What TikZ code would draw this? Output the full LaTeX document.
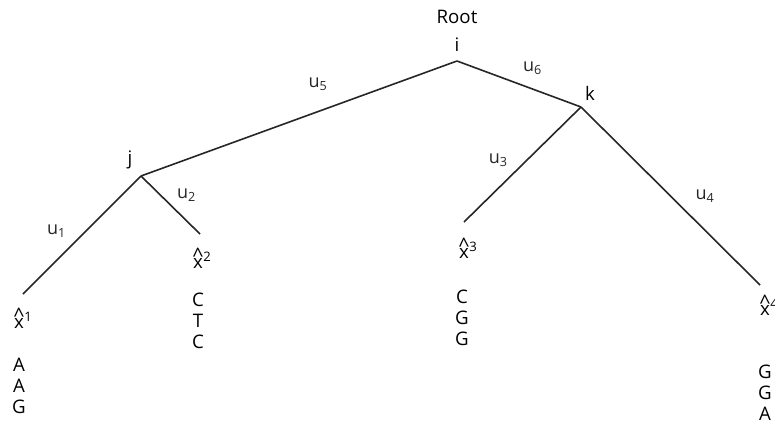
\documentclass[tikz,border=0pt]{standalone}
\usepackage{fontspec}
\setmainfont{Open Sans}
\usetikzlibrary{positioning}
\newcommand\xhat[1]{\shortstack[c]{{\fontsize{15}{15}\selectfont\textasciicircum}\\[-6pt]x}\textsuperscript{#1}}
\tikzset{
  branch/.style={line width=1.2pt,black!85},
  tag/.style={inner sep=1pt,font=\fontsize{14}{15.75}\selectfont},
  lbl/.style={inner sep=1pt,font=\fontsize{13.5}{15}\selectfont},
  seq/.style={inner sep=1pt,align=center,font=\fontsize{14}{15.75}\selectfont}
}
\begin{document}
\begin{tikzpicture}[x=0.75pt,y=-0.75pt]
  \useasboundingbox (0,0) rectangle (775,425);
  % inner vertices
  \coordinate (i) at (457,61);
  \coordinate (j) at (141,176);
  \coordinate (k) at (581,107);
  \node[tag] (root) at (457,17) {Root};
  \node[tag] (itag) at (457,45) {i};
  \node[tag] (jtag) at (130,160) {j};
  \node[tag] (ktag) at (590,93) {k};
  % leaves with their sequences
  \foreach \n/\lx/\ly/\hx/\hy/\sx/\sy/\s in {1/23/294/23/318/19/386/{A\\A\\G},
      2/200/234/202/258/198/321/{C\\T\\C},3/464/222/468/248/462/318/{C\\G\\G},
      4/760/285/769/305/765/393/{G\\G\\A}}{
    \coordinate (l\n) at (\lx,\ly);
    \node[tag] (h\n) at (\hx,\hy) {\xhat{\n}};
    \node[seq] (s\n) at (\sx,\sy) {\s};
  }
  % branches
  \draw[branch] (j) -- node[lbl,pos=.56,yshift=20.7pt] (u5) {u\textsubscript{5}} (i);
  \draw[branch] (i) -- node[lbl,pos=.61,yshift=15.7pt] (u6) {u\textsubscript{6}} (k);
  \draw[branch] (j) -- node[lbl,pos=.47,xshift=-21.7pt] (u1) {u\textsubscript{1}} (l1);
  \draw[branch] (j) -- node[lbl,pos=.33,xshift=19.5pt] (u2) {u\textsubscript{2}} (l2);
  \draw[branch] (k) -- node[lbl,pos=.46,xshift=-21.7pt] (u3) {u\textsubscript{3}} (l3);
  \draw[branch] (k) -- node[lbl,pos=.5,xshift=25.9pt] (u4) {u\textsubscript{4}} (l4);
\end{tikzpicture}
\end{document}
